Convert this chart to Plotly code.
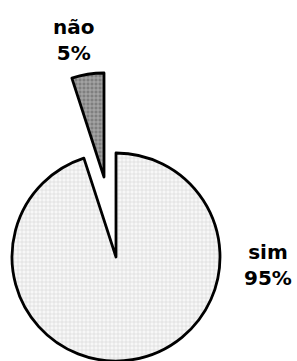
import plotly.graph_objects as go

# Data
labels = ["sim", "não"]
values = [95, 5]

W, H = 297, 361
total = sum(values)
pcts = [round(v / total * 100) for v in values]

# layout geometry (pixels)
R = 104
cA = (116, 257)      # main pie centre
cB = (104, 177)      # exploded slice centre


def dom(c, r):
    x0, x1 = (c[0] - r) / W, (c[0] + r) / W
    y0, y1 = (H - (c[1] + r)) / H, (H - (c[1] - r)) / H
    return dict(x=[max(0, x0), min(1, x1)], y=[max(0, y0), min(1, y1)])


line_col = "black"
lw = 2.8

fig = go.Figure()
# main pie: only "sim" slice visible
fig.add_trace(go.Pie(
    labels=labels, values=values, sort=False, direction="clockwise", rotation=0,
    textinfo="none", hoverinfo="label+percent", showlegend=False,
    domain=dom(cA, R),
    marker=dict(
        colors=["#f2f2f2", "rgba(0,0,0,0)"],
        line=dict(color=[line_col, "rgba(0,0,0,0)"], width=[lw, 0]),
        pattern=dict(shape=["+", ""], fgcolor=["#d0d0d0", "rgba(0,0,0,0)"],
                     bgcolor=["#f7f7f7", "rgba(0,0,0,0)"], size=4, solidity=0.25),
    ),
))
# exploded slice: only "não" visible
fig.add_trace(go.Pie(
    labels=labels, values=values, sort=False, direction="clockwise", rotation=0,
    textinfo="none", hoverinfo="label+percent", showlegend=False,
    domain=dom(cB, R),
    marker=dict(
        colors=["rgba(0,0,0,0)", "#8c8c8c"],
        line=dict(color=["rgba(0,0,0,0)", line_col], width=[0, lw]),
        pattern=dict(shape=["", "+"], fgcolor=["rgba(0,0,0,0)", "#b8b8b8"],
                     bgcolor=["rgba(0,0,0,0)", "#7f7f7f"], size=4, solidity=0.35),
    ),
))

label_pos = [(268, 265), (73.5, 40)]
annotations = []
for lab, p, (x, y) in zip(labels, pcts, label_pos):
    annotations.append(dict(
        x=x / W, y=1 - y / H, xref="paper", yref="paper",
        text=f"<b>{lab}<br>{p}%</b>", showarrow=False,
        xanchor="center", yanchor="middle", align="center",
        font=dict(family="DejaVu Sans", size=20, color="black"),
    ))

fig.update_layout(
    width=W, height=H, margin=dict(l=0, r=0, t=0, b=0),
    paper_bgcolor="white", plot_bgcolor="white",
    annotations=annotations,
)

fig.write_html(
    "out.html",
    config={"displayModeBar": False},
    post_script="document.body.style.margin='0px';document.body.style.overflow='hidden';",
)
